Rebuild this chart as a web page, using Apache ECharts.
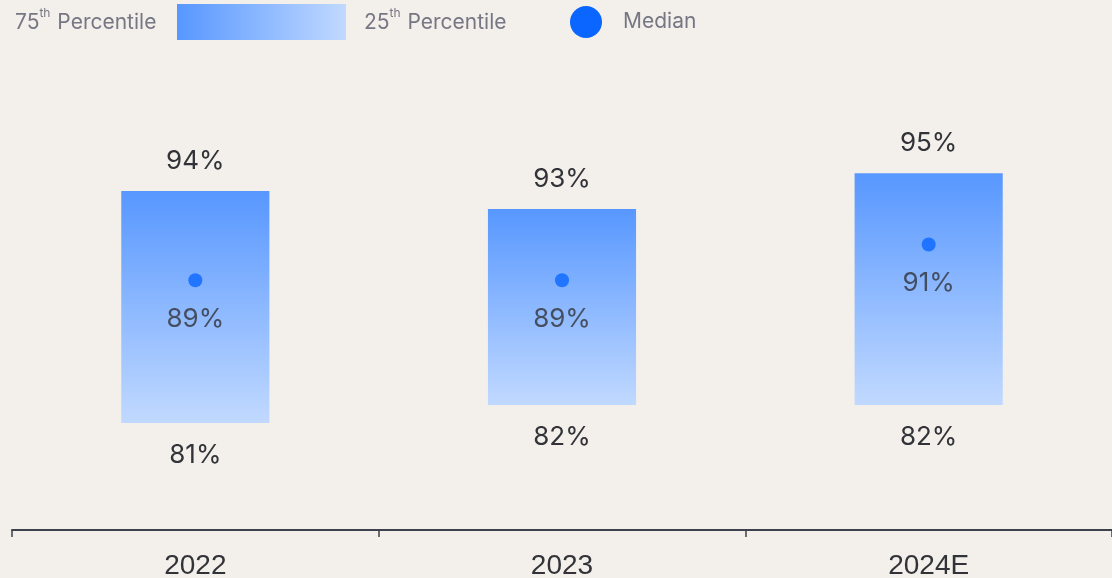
<!DOCTYPE html>
<html>
<head>
<meta charset="utf-8">
<script src="https://cdn.jsdelivr.net/npm/echarts@6/dist/echarts.min.js"></script>
<style>
  html, body { margin: 0; padding: 0; background: #f3f0eb; }
  #chart { width: 1112px; height: 578px; }
</style>
</head>
<body>
<div id="chart"></div>
<script>
// Utilisation ranges by year: interquartile band and median
const years = ['2022', '2023', '2024E'];
const p75 = [94, 93, 95];
const p25 = [81, 82, 82];
const median = [89, 89, 91];

const TOP_COLOR = '#5797ff';
const BOTTOM_COLOR = '#c1d9ff';
const DOT_COLOR = '#0a66ff';
const LABEL_COLOR = '#323338';
const LEGEND_COLOR = '#777784';

const chart = echarts.init(document.getElementById('chart'));

const bandData = years.map((y, i) => [i, p25[i], p75[i]]);
const medianData = years.map((y, i) => [i, median[i]]);

const legendRich = {
  n: { fontFamily: 'Inter', fontSize: 21, fill: LEGEND_COLOR, lineHeight: 26, verticalAlign: 'bottom' },
  s: { fontFamily: 'Inter', fontSize: 12, fill: LEGEND_COLOR, lineHeight: 26, verticalAlign: 'top', padding: [0, 1, 0, 0] }
};

chart.setOption({
  backgroundColor: '#f3f0eb',
  animation: false,
  grid: { left: 12, right: 0, top: 84, bottom: 48, outerBoundsMode: 'none' },
  xAxis: {
    type: 'category',
    data: years,
    boundaryGap: true,
    axisLine: { lineStyle: { color: '#3c414b', width: 2 } },
    axisTick: { show: true, length: 7, alignWithLabel: false, lineStyle: { color: '#3c414b', width: 1.5 } },
    axisLabel: { color: LABEL_COLOR, fontFamily: 'Liberation Sans', fontSize: 28, margin: 22 }
  },
  yAxis: {
    type: 'value', min: 75, max: 100,
    show: false, splitLine: { show: false }
  },
  series: [
    {
      type: 'custom',
      data: bandData,
      encode: { x: 0, y: [1, 2] },
      renderItem: function (params, api) {
        const idx = api.value(0);
        const lo = api.coord([idx, api.value(1)]);
        const hi = api.coord([idx, api.value(2)]);
        const w = api.size([1, 0])[0] * 0.404;
        const textStyle = { fill: LABEL_COLOR, fontFamily: 'Inter', fontSize: 26, align: 'center', verticalAlign: 'middle' };
        return {
          type: 'group',
          children: [
            {
              type: 'rect',
              shape: { x: lo[0] - w / 2, y: hi[1], width: w, height: lo[1] - hi[1] },
              style: {
                fill: new echarts.graphic.LinearGradient(0, 0, 0, 1, [
                  { offset: 0, color: TOP_COLOR },
                  { offset: 1, color: BOTTOM_COLOR }
                ])
              }
            },
            {
              type: 'text',
              x: hi[0], y: hi[1] - 30,
              style: Object.assign({ text: api.value(2) + '%' }, textStyle)
            },
            {
              type: 'text',
              x: lo[0], y: lo[1] + 32,
              style: Object.assign({ text: api.value(1) + '%' }, textStyle)
            }
          ]
        };
      },
      z: 2
    },
    {
      type: 'scatter',
      data: medianData,
      symbol: 'circle',
      symbolSize: 14,
      itemStyle: { color: DOT_COLOR },
      label: {
        show: true,
        position: 'bottom',
        distance: 19,
        formatter: p => p.value[1] + '%',
        color: LABEL_COLOR,
        fontFamily: 'Inter',
        fontSize: 26
      },
      z: 3
    }
  ],
  graphic: [
    {
      type: 'text', left: 15, top: 7,
      style: { text: '{n|75}{s|th}{n| Percentile}', rich: legendRich }
    },
    {
      type: 'rect', left: 177, top: 4,
      shape: { width: 169, height: 36 },
      style: {
        fill: new echarts.graphic.LinearGradient(0, 0, 1, 0, [
          { offset: 0, color: TOP_COLOR },
          { offset: 1, color: BOTTOM_COLOR }
        ])
      }
    },
    {
      type: 'text', left: 364, top: 7,
      style: { text: '{n|25}{s|th}{n| Percentile}', rich: legendRich }
    },
    {
      type: 'circle', shape: { cx: 586, cy: 22, r: 16 },
      style: { fill: DOT_COLOR }
    },
    {
      type: 'text', left: 623, top: 9,
      style: { text: 'Median', fontFamily: 'Inter', fontSize: 21, fill: LEGEND_COLOR, lineHeight: 26 }
    }
  ]
});
</script>
</body>
</html>
